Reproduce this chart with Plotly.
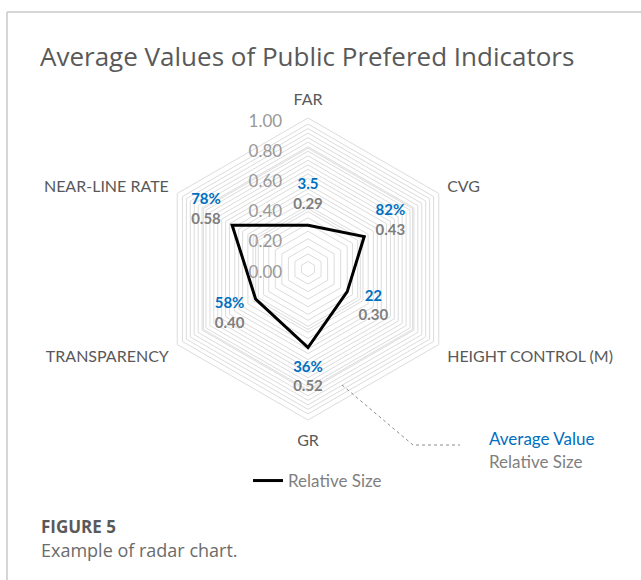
import plotly.graph_objects as go

# ---- data ----
categories = ["FAR", "CVG", "HEIGHT CONTROL (M)", "GR", "TRANSPARENCY", "NEAR-LINE RATE"]
relative_size = [0.29, 0.43, 0.30, 0.52, 0.40, 0.58]
average_value = ["3.5", "82%", "22", "36%", "58%", "78%"]
radial_tick_vals = [0.0, 0.2, 0.4, 0.6, 0.8, 1.0]
radial_tick_text = ["0.00", "0.20", "0.40", "0.60", "0.80", "1.00"]
ring_vals = [0.05, 0.10, 0.15, 0.20, 0.25, 0.30, 0.34, 0.38, 0.42, 0.46, 0.50, 0.53, 0.56,
             0.60, 0.63, 0.66, 0.69, 0.72, 0.75, 0.78, 0.81, 0.84, 0.87, 0.90, 0.93, 0.96, 1.0]
LABEL_OFFSET = 0.2   # data labels sit "outside end", this far beyond each point

W, H = 641, 580
def px(x):
    return x / W
def py(y):
    return 1 - y / H

FONT = "Lato"
BLUE = "#0070C0"
GRAY = "#7f7f7f"
DARK = "#595959"

all_vals = sorted(set([round(v, 3) for v in ring_vals + radial_tick_vals]))
all_text = []
for v in all_vals:
    t = ""
    for tv, tt in zip(radial_tick_vals, radial_tick_text):
        if abs(tv - v) < 1e-9:
            t = tt
    all_text.append(t)

fig = go.Figure()

fig.add_trace(go.Scatterpolar(
    r=relative_size + [relative_size[0]],
    theta=categories + [categories[0]],
    mode="lines",
    line=dict(color="black", width=3),
    name="Relative Size",
    showlegend=True,
    hoverinfo="r+theta",
))

labels = [f"<span style='color:{BLUE}'><b>{a}</b></span><br><b>{r:.2f}</b>"
          for a, r in zip(average_value, relative_size)]
fig.add_trace(go.Scatterpolar(
    r=[v + LABEL_OFFSET for v in relative_size],
    theta=categories,
    mode="text",
    text=labels,
    textposition="middle center",
    textfont=dict(family=FONT, size=15, color=GRAY),
    showlegend=False,
    hoverinfo="skip",
))

fig.update_layout(
    width=W, height=H,
    margin=dict(l=0, r=0, t=0, b=0),
    paper_bgcolor="white",
    plot_bgcolor="white",
    font=dict(family=FONT, color=DARK),
    title=dict(text="Average Values of Public Prefered Indicators",
               x=px(40), xanchor="left", y=py(57), yanchor="middle",
               font=dict(family="Open Sans", size=26, color=DARK)),
    polar=dict(
        domain=dict(x=[px(157), px(459)], y=[py(420), py(118)]),
        gridshape="linear",
        bgcolor="white",
        radialaxis=dict(
            range=[0, 1], angle=90, side="counterclockwise",
            tickvals=all_vals, ticktext=all_text,
            showline=False, ticks="outside", ticklen=10, tickcolor="rgba(0,0,0,0)",
            gridcolor="#dcdcdc", gridwidth=1,
            tickfont=dict(family=FONT, size=17, color="#999999"),
        ),
        angularaxis=dict(
            direction="clockwise", rotation=90,
            showgrid=False, showline=True, linecolor="#dcdcdc", linewidth=1,
            ticks="outside", ticklen=6, tickcolor="rgba(0,0,0,0)",
            tickfont=dict(family=FONT, size=16, color=DARK),
        ),
    ),
    legend=dict(orientation="h", x=px(248), xanchor="left", y=py(481), yanchor="middle",
                font=dict(family=FONT, size=17, color=GRAY), bgcolor="rgba(0,0,0,0)"),
    shapes=[
        dict(type="line", xref="paper", yref="paper", x0=px(7), x1=1, y0=py(12), y1=py(12),
             line=dict(color="#c8c8c8", width=1.5)),
        dict(type="line", xref="paper", yref="paper", x0=px(7), x1=px(7), y0=py(12), y1=0,
             line=dict(color="#c8c8c8", width=1.5)),
        dict(type="path", xref="paper", yref="paper",
             path=f"M {px(342)},{py(385)} L {px(413)},{py(445)} L {px(460)},{py(445)}",
             line=dict(color="#8c8c8c", width=1, dash="dot")),
    ],
    annotations=[
        dict(text="Average Value", x=px(487), y=py(438), xref="paper", yref="paper",
             xanchor="left", yanchor="middle", showarrow=False,
             font=dict(family=FONT, size=17, color=BLUE)),
        dict(text="Relative Size", x=px(487), y=py(461), xref="paper", yref="paper",
             xanchor="left", yanchor="middle", showarrow=False,
             font=dict(family=FONT, size=17, color=GRAY)),
        dict(text="<b>FIGURE 5</b>", x=px(39), y=py(526), xref="paper", yref="paper",
             xanchor="left", yanchor="middle", showarrow=False,
             font=dict(family="Open Sans", size=17, color=DARK)),
        dict(text="Example of radar chart.", x=px(39), y=py(550), xref="paper", yref="paper",
             xanchor="left", yanchor="middle", showarrow=False,
             font=dict(family="Open Sans", size=18, color="#6b6b6b")),
    ],
)

fig.write_html("out.html", config={"displayModeBar": False},
               post_script="document.body.style.margin='0';document.body.style.overflow='hidden';")
